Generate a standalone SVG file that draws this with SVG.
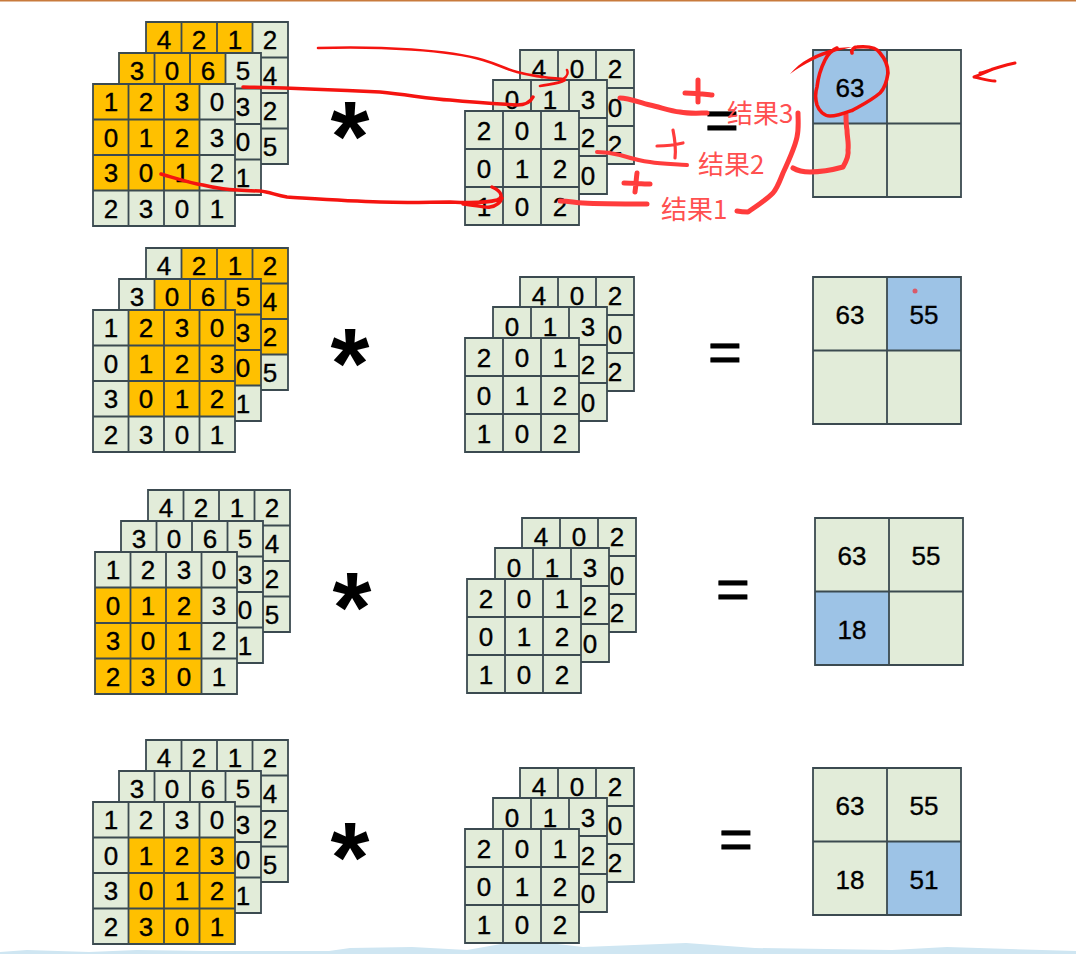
<svg xmlns="http://www.w3.org/2000/svg" width="1076" height="954" viewBox="0 0 1076 954">
<style>
text{font-family:"Liberation Sans",Arial,sans-serif;fill:#000}
.t{font-size:26px;text-anchor:middle;stroke:#000;stroke-width:.35}
.g{fill:#e2ecd9}.o{fill:#ffc000}.b{fill:#9dc3e6}
.l{fill:none;stroke:#3b4a50;stroke-width:1.8}
.s{font-size:100px;font-weight:bold;text-anchor:middle}
.e{font-size:58px;text-anchor:middle;stroke:#000;stroke-width:.8}
.r{fill:none;stroke:#f51410;stroke-width:3;stroke-linecap:round;stroke-linejoin:round}
.p{fill:none;stroke:#ff3c3c;stroke-width:5;stroke-linecap:round;stroke-linejoin:round}
.n{font-family:"Noto Sans CJK SC","Liberation Sans",sans-serif;font-size:26px;fill:#ff5050}
</style>
<defs>
<rect id="b4" width="142" height="142"/>
<path id="g4" class="l" d="M0 0H142V142H0ZM35.5 0V142M71 0V142M106.5 0V142M0 35.5H142M0 71H142M0 106.5H142"/>
<rect id="b3" width="114" height="114"/>
<path id="g3" class="l" d="M0 0H114V114H0ZM38 0V114M76 0V114M0 38H114M0 76H114"/>
<path id="g2" class="l" d="M0 0H148V147H0ZM74 0V147M0 73.5H148"/>
</defs>
<rect width="1076" height="954" fill="#fff"/>
<rect id="top-rule" width="1076" height="1.5" fill="#c87a3c"/>
<path id="bottom-wave" fill="#cfe6f2" d="M0 952L27 950L89 952L137 950L206 951L329 951L350 948L412 947L467 950L501 944L549 943L583 947L686 943L755 948L892 950L947 947L1076 951V954H0Z"/>

<!-- ROW 1 -->
<g id="r1-input">
<g transform="translate(146,22)"><use href="#b4" class="g"/><rect class="o" width="106.5" height="35.5"/><use href="#g4"/>
<text class="t" x="18" y="27">4</text><text class="t" x="53" y="27">2</text><text class="t" x="89" y="27">1</text><text class="t" x="124" y="27">2</text><text class="t" x="124" y="63">4</text><text class="t" x="124" y="98">2</text><text class="t" x="124" y="134">5</text></g>
<g transform="translate(119,53)"><use href="#b4" class="g"/><rect class="o" width="106.5" height="35.5"/><use href="#g4"/>
<text class="t" x="18" y="27">3</text><text class="t" x="53" y="27">0</text><text class="t" x="89" y="27">6</text><text class="t" x="124" y="27">5</text><text class="t" x="124" y="63">3</text><text class="t" x="124" y="98">0</text><text class="t" x="124" y="134">1</text></g>
<g transform="translate(93,84)"><use href="#b4" class="g"/><rect class="o" width="106.5" height="106.5"/><use href="#g4"/>
<text class="t" x="18" y="27">1</text><text class="t" x="53" y="27">2</text><text class="t" x="89" y="27">3</text><text class="t" x="124" y="27">0</text><text class="t" x="18" y="63">0</text><text class="t" x="53" y="63">1</text><text class="t" x="89" y="63">2</text><text class="t" x="124" y="63">3</text><text class="t" x="18" y="98">3</text><text class="t" x="53" y="98">0</text><text class="t" x="89" y="98">1</text><text class="t" x="124" y="98">2</text><text class="t" x="18" y="134">2</text><text class="t" x="53" y="134">3</text><text class="t" x="89" y="134">0</text><text class="t" x="124" y="134">1</text></g>
</g>
<text id="r1-star" class="s" x="350" y="170.5">*</text>
<g id="r1-kernel">
<g transform="translate(520,50)"><use href="#b3" class="g"/><use href="#g3"/><text class="t" x="19" y="28">4</text><text class="t" x="57" y="28">0</text><text class="t" x="95" y="28">2</text><text class="t" x="95" y="67">0</text><text class="t" x="95" y="104">2</text></g>
<g transform="translate(493,80)"><use href="#b3" class="g"/><use href="#g3"/><text class="t" x="19" y="29">0</text><text class="t" x="57" y="29">1</text><text class="t" x="95" y="29">3</text><text class="t" x="95" y="67">2</text><text class="t" x="95" y="105">0</text></g>
<g transform="translate(465,111)"><use href="#b3" class="g"/><use href="#g3"/><text class="t" x="19" y="29">2</text><text class="t" x="57" y="29">0</text><text class="t" x="95" y="29">1</text><text class="t" x="19" y="67">0</text><text class="t" x="57" y="67">1</text><text class="t" x="95" y="67">2</text><text class="t" x="19" y="105">1</text><text class="t" x="57" y="105">0</text><text class="t" x="95" y="105">2</text></g>
</g>
<text id="r1-eq" class="e" x="722" y="140">=</text>
<g id="r1-output" transform="translate(813,50)"><rect class="g" width="148" height="147"/><rect class="b" width="74" height="73.5"/><use href="#g2"/><text class="t" x="37" y="47">63</text></g>

<!-- ROW 2 -->
<g id="r2-input" transform="translate(0,226)">
<g transform="translate(146,22)"><use href="#b4" class="g"/><rect class="o" x="35.5" width="106.5" height="106.5"/><use href="#g4"/>
<text class="t" x="18" y="27">4</text><text class="t" x="53" y="27">2</text><text class="t" x="89" y="27">1</text><text class="t" x="124" y="27">2</text><text class="t" x="124" y="63">4</text><text class="t" x="124" y="98">2</text><text class="t" x="124" y="134">5</text></g>
<g transform="translate(119,53)"><use href="#b4" class="g"/><rect class="o" x="35.5" width="106.5" height="106.5"/><use href="#g4"/>
<text class="t" x="18" y="27">3</text><text class="t" x="53" y="27">0</text><text class="t" x="89" y="27">6</text><text class="t" x="124" y="27">5</text><text class="t" x="124" y="63">3</text><text class="t" x="124" y="98">0</text><text class="t" x="124" y="134">1</text></g>
<g transform="translate(93,84)"><use href="#b4" class="g"/><rect class="o" x="35.5" width="106.5" height="106.5"/><use href="#g4"/>
<text class="t" x="18" y="27">1</text><text class="t" x="53" y="27">2</text><text class="t" x="89" y="27">3</text><text class="t" x="124" y="27">0</text><text class="t" x="18" y="63">0</text><text class="t" x="53" y="63">1</text><text class="t" x="89" y="63">2</text><text class="t" x="124" y="63">3</text><text class="t" x="18" y="98">3</text><text class="t" x="53" y="98">0</text><text class="t" x="89" y="98">1</text><text class="t" x="124" y="98">2</text><text class="t" x="18" y="134">2</text><text class="t" x="53" y="134">3</text><text class="t" x="89" y="134">0</text><text class="t" x="124" y="134">1</text></g>
</g>
<text id="r2-star" class="s" x="350" y="397.5">*</text>
<g id="r2-kernel" transform="translate(0,227)">
<g transform="translate(520,50)"><use href="#b3" class="g"/><use href="#g3"/><text class="t" x="19" y="28">4</text><text class="t" x="57" y="28">0</text><text class="t" x="95" y="28">2</text><text class="t" x="95" y="67">0</text><text class="t" x="95" y="104">2</text></g>
<g transform="translate(493,80)"><use href="#b3" class="g"/><use href="#g3"/><text class="t" x="19" y="29">0</text><text class="t" x="57" y="29">1</text><text class="t" x="95" y="29">3</text><text class="t" x="95" y="67">2</text><text class="t" x="95" y="105">0</text></g>
<g transform="translate(465,111)"><use href="#b3" class="g"/><use href="#g3"/><text class="t" x="19" y="29">2</text><text class="t" x="57" y="29">0</text><text class="t" x="95" y="29">1</text><text class="t" x="19" y="67">0</text><text class="t" x="57" y="67">1</text><text class="t" x="95" y="67">2</text><text class="t" x="19" y="105">1</text><text class="t" x="57" y="105">0</text><text class="t" x="95" y="105">2</text></g>
</g>
<text id="r2-eq" class="e" x="725" y="371.5">=</text>
<g id="r2-output" transform="translate(813,277)"><rect class="g" width="148" height="147"/><rect class="b" x="74" width="74" height="73.5"/><use href="#g2"/><text class="t" x="37" y="47">63</text><text class="t" x="111" y="47">55</text></g>

<!-- ROW 3 -->
<g id="r3-input" transform="translate(2,468)">
<g transform="translate(146,22)"><use href="#b4" class="g"/><use href="#g4"/>
<text class="t" x="18" y="27">4</text><text class="t" x="53" y="27">2</text><text class="t" x="89" y="27">1</text><text class="t" x="124" y="27">2</text><text class="t" x="124" y="63">4</text><text class="t" x="124" y="98">2</text><text class="t" x="124" y="134">5</text></g>
<g transform="translate(119,53)"><use href="#b4" class="g"/><use href="#g4"/>
<text class="t" x="18" y="27">3</text><text class="t" x="53" y="27">0</text><text class="t" x="89" y="27">6</text><text class="t" x="124" y="27">5</text><text class="t" x="124" y="63">3</text><text class="t" x="124" y="98">0</text><text class="t" x="124" y="134">1</text></g>
<g transform="translate(93,84)"><use href="#b4" class="g"/><rect class="o" y="35.5" width="106.5" height="106.5"/><use href="#g4"/>
<text class="t" x="18" y="27">1</text><text class="t" x="53" y="27">2</text><text class="t" x="89" y="27">3</text><text class="t" x="124" y="27">0</text><text class="t" x="18" y="63">0</text><text class="t" x="53" y="63">1</text><text class="t" x="89" y="63">2</text><text class="t" x="124" y="63">3</text><text class="t" x="18" y="98">3</text><text class="t" x="53" y="98">0</text><text class="t" x="89" y="98">1</text><text class="t" x="124" y="98">2</text><text class="t" x="18" y="134">2</text><text class="t" x="53" y="134">3</text><text class="t" x="89" y="134">0</text><text class="t" x="124" y="134">1</text></g>
</g>
<text id="r3-star" class="s" x="352" y="642">*</text>
<g id="r3-kernel" transform="translate(2,468)">
<g transform="translate(520,50)"><use href="#b3" class="g"/><use href="#g3"/><text class="t" x="19" y="28">4</text><text class="t" x="57" y="28">0</text><text class="t" x="95" y="28">2</text><text class="t" x="95" y="67">0</text><text class="t" x="95" y="104">2</text></g>
<g transform="translate(493,80)"><use href="#b3" class="g"/><use href="#g3"/><text class="t" x="19" y="29">0</text><text class="t" x="57" y="29">1</text><text class="t" x="95" y="29">3</text><text class="t" x="95" y="67">2</text><text class="t" x="95" y="105">0</text></g>
<g transform="translate(465,111)"><use href="#b3" class="g"/><use href="#g3"/><text class="t" x="19" y="29">2</text><text class="t" x="57" y="29">0</text><text class="t" x="95" y="29">1</text><text class="t" x="19" y="67">0</text><text class="t" x="57" y="67">1</text><text class="t" x="95" y="67">2</text><text class="t" x="19" y="105">1</text><text class="t" x="57" y="105">0</text><text class="t" x="95" y="105">2</text></g>
</g>
<text id="r3-eq" class="e" x="733" y="609">=</text>
<g id="r3-output" transform="translate(815,518)"><rect class="g" width="148" height="147"/><rect class="b" y="73.5" width="74" height="73.5"/><use href="#g2"/><text class="t" x="37" y="47">63</text><text class="t" x="111" y="47">55</text><text class="t" x="37" y="121">18</text></g>

<!-- ROW 4 -->
<g id="r4-input" transform="translate(0,718)">
<g transform="translate(146,22)"><use href="#b4" class="g"/><use href="#g4"/>
<text class="t" x="18" y="27">4</text><text class="t" x="53" y="27">2</text><text class="t" x="89" y="27">1</text><text class="t" x="124" y="27">2</text><text class="t" x="124" y="63">4</text><text class="t" x="124" y="98">2</text><text class="t" x="124" y="134">5</text></g>
<g transform="translate(119,53)"><use href="#b4" class="g"/><use href="#g4"/>
<text class="t" x="18" y="27">3</text><text class="t" x="53" y="27">0</text><text class="t" x="89" y="27">6</text><text class="t" x="124" y="27">5</text><text class="t" x="124" y="63">3</text><text class="t" x="124" y="98">0</text><text class="t" x="124" y="134">1</text></g>
<g transform="translate(93,84)"><use href="#b4" class="g"/><rect class="o" x="35.5" y="35.5" width="106.5" height="106.5"/><use href="#g4"/>
<text class="t" x="18" y="27">1</text><text class="t" x="53" y="27">2</text><text class="t" x="89" y="27">3</text><text class="t" x="124" y="27">0</text><text class="t" x="18" y="63">0</text><text class="t" x="53" y="63">1</text><text class="t" x="89" y="63">2</text><text class="t" x="124" y="63">3</text><text class="t" x="18" y="98">3</text><text class="t" x="53" y="98">0</text><text class="t" x="89" y="98">1</text><text class="t" x="124" y="98">2</text><text class="t" x="18" y="134">2</text><text class="t" x="53" y="134">3</text><text class="t" x="89" y="134">0</text><text class="t" x="124" y="134">1</text></g>
</g>
<text id="r4-star" class="s" x="350" y="892">*</text>
<g id="r4-kernel" transform="translate(0,718)">
<g transform="translate(520,50)"><use href="#b3" class="g"/><use href="#g3"/><text class="t" x="19" y="28">4</text><text class="t" x="57" y="28">0</text><text class="t" x="95" y="28">2</text><text class="t" x="95" y="67">0</text><text class="t" x="95" y="104">2</text></g>
<g transform="translate(493,80)"><use href="#b3" class="g"/><use href="#g3"/><text class="t" x="19" y="29">0</text><text class="t" x="57" y="29">1</text><text class="t" x="95" y="29">3</text><text class="t" x="95" y="67">2</text><text class="t" x="95" y="105">0</text></g>
<g transform="translate(465,111)"><use href="#b3" class="g"/><use href="#g3"/><text class="t" x="19" y="29">2</text><text class="t" x="57" y="29">0</text><text class="t" x="95" y="29">1</text><text class="t" x="19" y="67">0</text><text class="t" x="57" y="67">1</text><text class="t" x="95" y="67">2</text><text class="t" x="19" y="105">1</text><text class="t" x="57" y="105">0</text><text class="t" x="95" y="105">2</text></g>
</g>
<text id="r4-eq" class="e" x="736" y="859">=</text>
<g id="r4-output" transform="translate(813,768)"><rect class="g" width="148" height="147"/><rect class="b" x="74" y="73.5" width="74" height="73.5"/><use href="#g2"/><text class="t" x="37" y="47">63</text><text class="t" x="111" y="47">55</text><text class="t" x="37" y="121">18</text><text class="t" x="111" y="121">51</text></g>

<!-- ANNOTATIONS -->
<g id="connectors">
<path class="r" style="stroke-width:2.6" d="M318 48C380 46 450 50 483 60C500 65 505 69 517 72C535 77 550 78 563 79C568 76 568 72 567 70M565 80C558 84 550 84 540 86"/>
<path class="r" style="stroke-width:3.5" d="M243 87C290 88 340 90 380 92C410 95 430 99 450 100C470 102 483 103 517 105C525 105 530 103 533 97"/>
<path class="r" style="stroke-width:3.5" d="M161 174C175 178 190 183 203 185C215 188 225 190 260 191C270 192 275 195 287 197C320 199 350 201 380 202C410 203 430 202 450 202C470 203 490 202 497 200C503 198 503 192 492 187M463 204C475 205 485 208 490 207C496 206 500 203 502 198"/>
<path class="p" d="M620 98C630 98 640 103 650 105C660 107 670 111 680 112C690 114 700 113 707 113"/>
<path class="p" d="M685 93C695 93 703 94 712 95M698 80L698 102"/>
<path class="p" style="stroke-width:4" d="M597 152C605 152 612 153 620 155C630 158 640 161 650 162C662 164 675 164 687 165"/>
<path class="p" style="stroke-width:3.2" d="M657 146C665 146 675 145 683 143M673 130C675 140 676 150 675 158"/>
<path class="p" d="M560 201C570 201 575 203 583 203C600 204 630 204 647 204"/>
<path class="p" d="M624 183C632 183 642 184 650 184M637 173C636 180 636 186 635 192"/>
<path class="p" d="M737 211C742 212 745 212 748 212C755 207 765 201 773 193C778 187 780 180 783 173C790 158 795 147 797 137C799 128 798 120 798 113"/>
<path class="p" d="M793 168C798 171 805 172 810 172C820 172 832 170 843 167C847 160 849 155 848 150C849 143 847 137 847 130C846 125 846 120 846 115"/>
<path class="r" style="stroke-width:3.6" d="M852 53C851 50 854 47 857 47C868 46 877 48 880 53C886 60 888 66 888 73C887 80 885 88 880 93C872 100 862 105 853 110C845 113 838 116 830 116C824 116 819 111 817 105C815 98 815 93 817 87C818 78 821 68 825 60C828 54 832 50 837 48"/>
<path fill="#f51410" d="M790 74C800 62 815 53 837 48L852 47L837 51C820 56 805 63 790 74Z"/>
<path class="r" d="M1015 63C1005 65 1000 67 993 69C988 71 980 75 974 77C980 78 988 81 995 81M980 73C985 72 990 70 993 69"/>
<circle cx="915" cy="291" r="2.5" fill="#e8404a" opacity=".8"/>
</g>
<g id="labels">
<text class="n" x="727" y="123">结果3</text>
<text class="n" x="698" y="174">结果2</text>
<text class="n" x="661" y="219">结果1</text>
</g>
</svg>
